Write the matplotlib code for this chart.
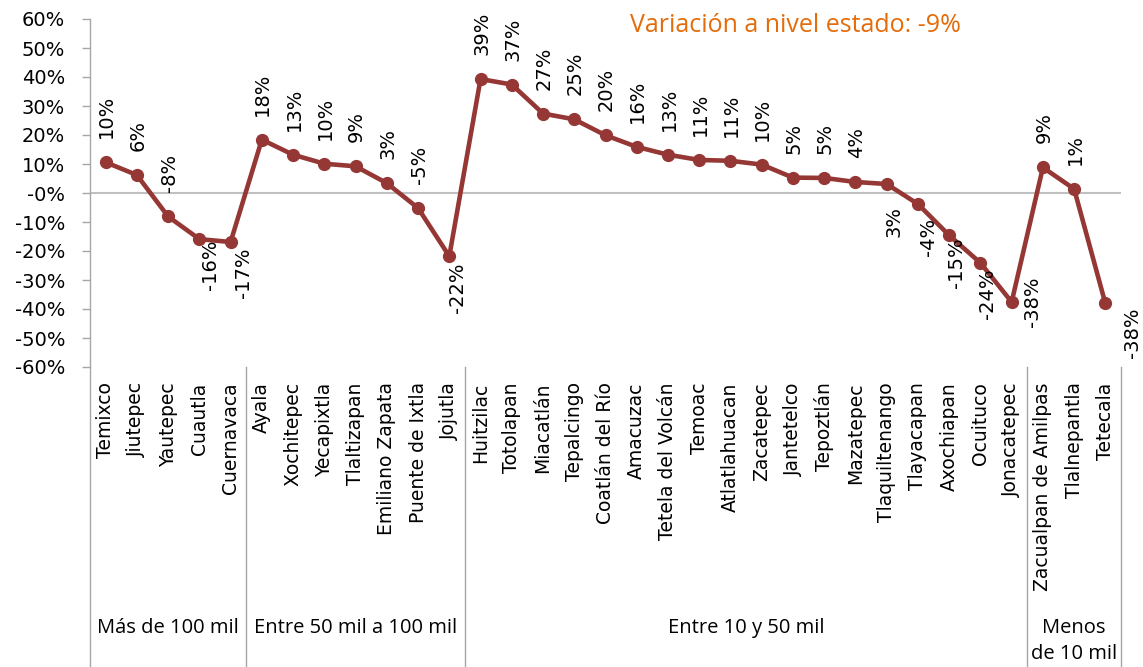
import numpy as np
import matplotlib
matplotlib.use("Agg")
import matplotlib.pyplot as plt
import matplotlib.transforms as mtransforms
from matplotlib.ticker import PercentFormatter

plt.rcParams["axes.unicode_minus"] = False

# ------- datos -------
municipios = ["Temixco", "Jiutepec", "Yautepec", "Cuautla", "Cuernavaca",
              "Ayala", "Xochitepec", "Yecapixtla", "Tlaltizapan", "Emiliano Zapata",
              "Puente de Ixtla", "Jojutla",
              "Huitzilac", "Totolapan", "Miacatlán", "Tepalcingo", "Coatlán del Río",
              "Amacuzac", "Tetela del Volcán", "Temoac", "Atlatlahuacan", "Zacatepec",
              "Jantetelco", "Tepoztlán", "Mazatepec", "Tlaquiltenango", "Tlayacapan",
              "Axochiapan", "Ocuituco", "Jonacatepec",
              "Zacualpan de Amilpas", "Tlalnepantla", "Tetecala"]
variacion = [10.6, 6.2, -8.1, -15.9, -16.9,
             18.4, 13.2, 10.1, 9.2, 3.4, -5.2, -21.8,
             39.3, 37.4, 27.4, 25.4, 19.9, 15.9, 13.2, 11.4, 11.1, 9.8,
             5.3, 5.2, 3.8, 3.1, -3.8, -14.6, -24.1, -37.6,
             8.8, 1.4, -38.1]
etiquetas = ["10%", "6%", "-8%", "-16%", "-17%",
             "18%", "13%", "10%", "9%", "3%", "-5%", "-22%",
             "39%", "37%", "27%", "25%", "20%", "16%", "13%", "11%", "11%", "10%",
             "5%", "5%", "4%", "3%", "-4%", "-15%", "-24%", "-38%",
             "9%", "1%", "-38%"]
grupos = ["Más de 100 mil", "Entre 50 mil a 100 mil", "Entre 10 y 50 mil", "Menos\nde 10 mil"]
tam_grupos = [5, 7, 18, 3]
titulo = "Variación a nivel estado: -9%"

# posiciones especiales de las etiquetas (dx px, dy px, va)
pos_especial = {
    "Cuautla": (11, 0, "top"),
    "Cuernavaca": (13, -5, "top"),
    "Jojutla": (8, -6, "top"),
    "Tlaquiltenango": (7, -22, "top"),
    "Tlayacapan": (11, -14, "top"),
    "Axochiapan": (7, -2, "top"),
    "Ocuituco": (7, -6, "top"),
    "Jonacatepec": (21, 0, "center"),
    "Tetecala": (27, -4, "top"),
}

color_linea = "#953735"
gris = "#A6A6A6"

fig = plt.figure(figsize=(11.43, 6.67), dpi=100)
W, H = 1143, 667
x0, x1, y0, y1 = 90, 1121, 19, 367
ax = fig.add_axes([x0 / W, 1 - y1 / H, (x1 - x0) / W, (y1 - y0) / H])

x = np.arange(len(municipios))
y = np.array(variacion) / 100.0

ax.axhline(0, color="#C0C0C0", lw=1.5, zorder=1)
ax.plot(x, y, color=color_linea, lw=3.3, marker="o", ms=8.5, zorder=3)

ax.set_xlim(-0.5, len(municipios) - 0.5)
ax.set_ylim(-0.6, 0.6)
ax.set_yticks(np.arange(-0.6, 0.61, 0.1))
ax.yaxis.set_major_formatter(PercentFormatter(1.0, decimals=0))
ax.tick_params(axis="y", length=6, width=1, color=gris, pad=12, labelsize=14)
ax.set_xticks(x)
ax.set_xticklabels(municipios, rotation=90, fontsize=13.5, va="top")
ax.tick_params(axis="x", length=0, pad=11)

for s in ["top", "right", "bottom"]:
    ax.spines[s].set_visible(False)
ax.spines["left"].set_color(gris)
ax.spines["left"].set_linewidth(1)

# etiquetas de datos
k = 72 / 100.0
for i, (xi, yi, lab) in enumerate(zip(x, y, etiquetas)):
    dx, dy, va = pos_especial.get(municipios[i], (1, 24, "bottom"))
    ax.annotate(lab, (xi, yi), xytext=(dx * k, dy * k), textcoords="offset points",
                rotation=90, ha="center", va=va, fontsize=14, zorder=4)

# lineas separadoras y nombres de grupos
trans = mtransforms.blended_transform_factory(ax.transData, ax.transAxes)
alto = y1 - y0
y_fondo = -(H - y1) / alto
ax.plot([-0.5, -0.5], [0, y_fondo], transform=trans, color=gris, lw=1, clip_on=False)
inicio = 0
for g, n in zip(grupos, tam_grupos):
    fin = inicio + n
    ax.plot([fin - 0.5, fin - 0.5], [0, y_fondo], transform=trans, color=gris, lw=1,
            clip_on=False)
    centro = (inicio + fin - 1) / 2
    if "\n" in g:
        ypix = 641
    else:
        ypix = 628
    ax.text(centro, -(ypix - y1) / alto, g, transform=trans, ha="center",
            va="center", fontsize=14.5, family="Open Sans", linespacing=1.45,
            clip_on=False)
    inicio = fin

fig.text(795 / W, 1 - 25 / H, titulo, color="#E46C0A", fontsize=18,
         family="Open Sans", ha="center", va="center")

fig.savefig("out.png", dpi=100)
